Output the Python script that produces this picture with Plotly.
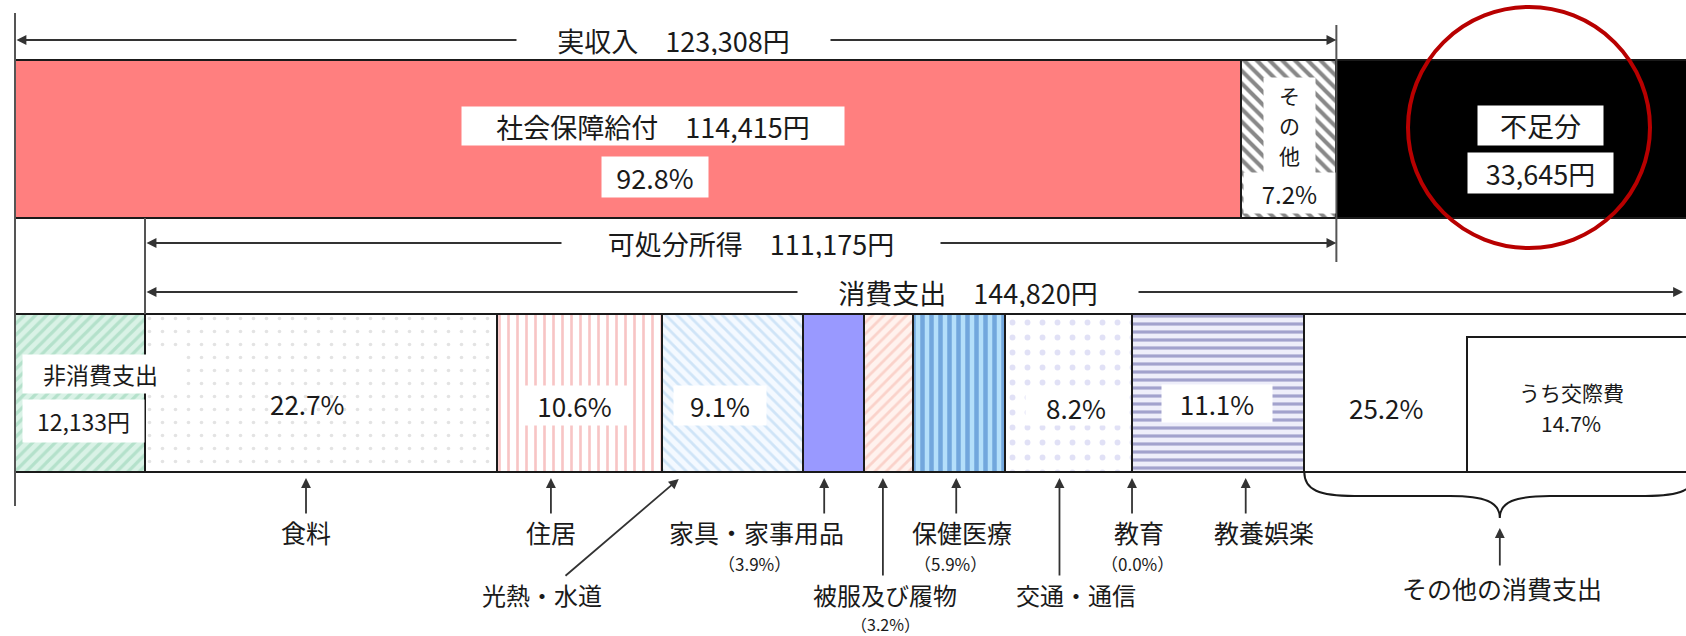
import plotly.graph_objects as go

# ---------------- data ----------------
income_labels = ["社会保障給付", "その他", "不足分"]
income_values = [114415, 8893, 33645]          # yen / month
income_pct = [92.8, 7.2]
actual_income = 123308
disposable_income = 111175
non_consumption = 12133
consumption = 144820
cons_labels = ["食料", "住居", "光熱・水道", "家具・家事用品", "被服及び履物",
               "保健医療", "交通・通信", "教育", "教養娯楽", "その他の消費支出"]
cons_pct = [22.7, 10.6, 9.1, 3.9, 3.2, 5.9, 8.2, 0.0, 11.1, 25.2]
kosai_label = "うち交際費"
kosai_pct = 14.7

# ---------------- layout helpers ----------------
W, H = 1686, 636
FONT = "Noto Sans CJK JP"
TXT = "#1a1a1a"
PX = 0.010716            # pixels per yen
LEFT = 15                # pixel of yen 0
XMIN = -LEFT / PX
XMAX = XMIN + W / PX


def X(p):
    """pixel -> x data (for decorations / text placement only)"""
    return XMIN + p / PX


TOP_Y, BOT_Y, BAR_H = 139, 393, 158

fig = go.Figure()

# ---------------- top bar: income ----------------
income_styles = [
    dict(color="#ff7f7f"),
    dict(color="white", pattern=dict(shape="\\", fgcolor="#111111", size=9,
                                     solidity=0.45, fillmode="overlay")),
    dict(color="#000000"),
]
base = 0
for lab, v, st in zip(income_labels, income_values, income_styles):
    fig.add_trace(go.Bar(
        y=[TOP_Y], x=[v], base=[base], width=[BAR_H], orientation="h",
        marker=dict(**st, line=dict(color="#1a1a1a", width=2)),
        name=lab, hoverinfo="skip", showlegend=False))
    base += v

# ---------------- bottom bar: expenditure ----------------
cons_values = [consumption * p / 100 for p in cons_pct]
fig.add_trace(go.Bar(
    y=[BOT_Y], x=[non_consumption], base=[0], width=[BAR_H], orientation="h",
    marker=dict(color="#d9f2e6",
                pattern=dict(shape="/", fgcolor="#8fd0b0", size=8, solidity=0.4,
                             fillmode="overlay"),
                line=dict(color="#1a1a1a", width=2)),
    name="非消費支出", hoverinfo="skip", showlegend=False))

cons_styles = [
    dict(color="white", pattern=dict(shape=".", fgcolor="#c8c8c8", size=13, solidity=0.06, fillmode="overlay")),
    dict(color="white", pattern=dict(shape="|", fgcolor="#f08c8c", size=9, solidity=0.3, fillmode="overlay")),
    dict(color="#f4f9ff", pattern=dict(shape="\\", fgcolor="#aacff0", size=8, solidity=0.35, fillmode="overlay")),
    dict(color="#9999ff"),
    dict(color="#fff2ee", pattern=dict(shape="/", fgcolor="#f6b2a6", size=8, solidity=0.35, fillmode="overlay")),
    dict(color="#b4dffa", pattern=dict(shape="|", fgcolor="#2f6fc0", size=9, solidity=0.5, fillmode="overlay")),
    dict(color="white", pattern=dict(shape=".", fgcolor="#c4c4ee", size=15, solidity=0.12, fillmode="overlay")),
    dict(color="white"),
    dict(color="#eeeefa", pattern=dict(shape="-", fgcolor="#5555a0", size=8, solidity=0.4, fillmode="overlay")),
    dict(color="white"),
]
starts = []
base = non_consumption
for lab, v, st in zip(cons_labels, cons_values, cons_styles):
    starts.append(base)
    fig.add_trace(go.Bar(
        y=[BOT_Y], x=[v], base=[base], width=[BAR_H], orientation="h",
        marker=dict(**st, line=dict(color="#1a1a1a", width=2)),
        name=lab, hoverinfo="skip", showlegend=False))
    base += v
cons_end = base

# うち交際費 box (right part of その他の消費支出)
kosai_value = consumption * kosai_pct / 100
KOSAI_TOP = 337
fig.add_trace(go.Bar(
    y=[(KOSAI_TOP + BOT_Y + BAR_H / 2) / 2], x=[kosai_value], base=[cons_end - kosai_value],
    width=[BOT_Y + BAR_H / 2 - KOSAI_TOP], orientation="h",
    marker=dict(color="white", line=dict(color="#1a1a1a", width=2)),
    name=kosai_label, hoverinfo="skip", showlegend=False))

# ---------------- shapes ----------------
shapes = []
LINE = dict(color="#555555", width=2)
shapes.append(dict(type="line", xref="x", yref="y", x0=0, x1=0, y0=13, y1=506, line=LINE))
shapes.append(dict(type="line", xref="x", yref="y", x0=non_consumption, x1=non_consumption,
                   y0=TOP_Y + BAR_H / 2, y1=BOT_Y - BAR_H / 2, line=LINE))
shapes.append(dict(type="line", xref="x", yref="y", x0=actual_income, x1=actual_income,
                   y0=25, y1=262, line=LINE))

# brace under その他の消費支出
b0 = starts[-1]
b1 = cons_end
mid = (b0 + b1) / 2
d = 25 / PX
yb, yh, yt = BOT_Y + BAR_H / 2, 496, 518
brace = (f"M {b0},{yb} C {b0},{yh - 6} {b0 + d * 0.6},{yh} {b0 + 2 * d},{yh} "
         f"L {mid - 2 * d},{yh} C {mid - d * 0.6},{yh} {mid},{yh + 6} {mid},{yt} "
         f"C {mid},{yh + 6} {mid + d * 0.6},{yh} {mid + 2 * d},{yh} "
         f"L {b1 - 2 * d},{yh} C {b1 - d * 0.6},{yh} {b1},{yh - 6} {b1},{yb}")
shapes.append(dict(type="path", xref="x", yref="y", path=brace,
                   line=dict(color="#1a1a1a", width=2)))

# red highlight circle around 不足分
shapes.append(dict(type="circle", xref="x", yref="y", x0=X(1408), x1=X(1650), y0=7, y1=248,
                   line=dict(color="#b80000", width=4)))

# ---------------- annotations ----------------
anns = []
ARW = dict(showarrow=True, arrowcolor="#333333", arrowwidth=1.8, arrowhead=2, arrowsize=1.1,
           axref="x", ayref="y", xref="x", yref="y", text="")


def harrow(xa, xb, y):
    anns.append(dict(x=xb, y=y, ax=xa, ay=y, arrowside="end+start", startarrowhead=2,
                     startarrowsize=1.1, **ARW))


def varrow(x, y_head, y_tail, x_tail=None):
    anns.append(dict(x=x, y=y_head, ax=x if x_tail is None else x_tail, ay=y_tail, **ARW))


harrow(0, actual_income, 40)
harrow(non_consumption, actual_income, 243)
harrow(non_consumption, min(cons_end, XMAX - 3 / PX), 292)

# arrows from the category labels up to the bar
arrow_frac = [0.457, 0.326, 0.12, 0.35, 0.39, 0.47, 0.43, 0.0, 0.66]
long_tail = {"被服及び履物", "交通・通信"}
for i, lab in enumerate(cons_labels[:-1]):
    xh = starts[i] + arrow_frac[i] * cons_values[i]
    if lab == "光熱・水道":
        varrow(xh, 479, 577, x_tail=X(564))
    elif lab in long_tail:
        varrow(xh, 478, 577)
    else:
        varrow(xh, 478, 515)
varrow(mid, yt + 10, 567)


def text(t, px, py, size, bg=None, w=None, h=None, xanchor="center", align="center"):
    a = dict(x=X(px), y=py, xref="x", yref="y", text=t, showarrow=False,
             font=dict(family=FONT, size=size, color=TXT), xanchor=xanchor, yanchor="middle",
             align=align, borderpad=0)
    if bg:
        a["bgcolor"] = bg
    if w:
        a["width"] = w
    if h:
        a["height"] = h
    anns.append(a)


WS = "\u3000"
BIG = 27
# headline arrow labels
text(f"実収入{WS}{actual_income:,}円", 673, 40, BIG, "white", 313, 30)
text(f"可処分所得{WS}{disposable_income:,}円", 751, 243, BIG, "white", 378, 30)
text(f"消費支出{WS}{consumption:,}円", 968, 292, BIG, "white", 340, 30)

# top bar labels
text(f"{income_labels[0]}{WS}{income_values[0]:,}円", 653, 126, BIG, "white", 382, 38)
text(f"{income_pct[0]:.1f}%", 655, 177, BIG, "white", 106, 40)
# vertical その他 : white box, then one character per row
anns.append(dict(x=X(1289.5), y=125.5, xref="x", yref="y", text="", showarrow=False,
                 bgcolor="white", width=51, height=95, borderpad=0))
for k, ch in enumerate(income_labels[1]):
    text(ch, 1289.5, 95 + 30 * k, 21)
text(f"{income_pct[1]:.1f}%", 1289.5, 193, 24, "white", 91, 40)
text(income_labels[2], 1540.5, 125.5, BIG, "white", 125, 39)
text(f"{income_values[2]:,}円", 1540.5, 173, BIG, "white", 145, 40)

# bottom bar labels
text("非消費支出", 22, 374, 23, "white", 155, 38, xanchor="left")
text(f"{non_consumption:,}円", 22, 421, 23, "white", 121, 42, xanchor="left")
text(f"{cons_pct[0]:.1f}%", 307, 403, 26)
text(f"{cons_pct[1]:.1f}%", 574.5, 405.5, 26, "white", 105, 39)
text(f"{cons_pct[2]:.1f}%", 720, 405.5, 26, "white", 92, 39)
text(f"{cons_pct[6]:.1f}%", 1076, 407, 26, "white", 100, 36)
text(f"{cons_pct[8]:.1f}%", 1217, 403.5, 26, "white", 110, 37)
text(f"{cons_pct[9]:.1f}%", 1386, 407, 26)
text(kosai_label, 1571, 392, 21)
text(f"{kosai_pct:.1f}%", 1571, 423, 21)

# category names below
LBL = 25
SM = 17
R1, R2, R3, R4 = 532, 563, 594, 623.5
text(cons_labels[0], 306, R1, LBL)
text(cons_labels[1], 551, R1, LBL)
text(cons_labels[2], 542, R3, 24)
text(cons_labels[3], 756, R1, LBL)
text(f"（{cons_pct[3]:.1f}%）", 754, R2, SM)
text(cons_labels[4], 885, R3, 24)
text(f"（{cons_pct[4]:.1f}%）", 885, R4, 16)
text(cons_labels[5], 962, R1, LBL)
text(f"（{cons_pct[5]:.1f}%）", 950, R2, SM)
text(cons_labels[6], 1076, R3, 24)
text(cons_labels[7], 1139, R1, LBL)
text(f"（{cons_pct[7]:.1f}%）", 1137, R2, SM)
text(cons_labels[8], 1264, R1, LBL)
text(cons_labels[9], 1502, 588, LBL)

fig.update_layout(
    width=W, height=H,
    margin=dict(l=0, r=0, t=0, b=0, pad=0),
    paper_bgcolor="white", plot_bgcolor="white",
    barmode="overlay", bargap=0,
    showlegend=False, hovermode=False,
    xaxis=dict(range=[XMIN, XMAX], visible=False, fixedrange=True),
    yaxis=dict(range=[H, 0], visible=False, fixedrange=True),
    shapes=shapes, annotations=anns,
)

fig.write_html("out.html", config={"displayModeBar": False},
               post_script="document.body.style.margin='0px';")
